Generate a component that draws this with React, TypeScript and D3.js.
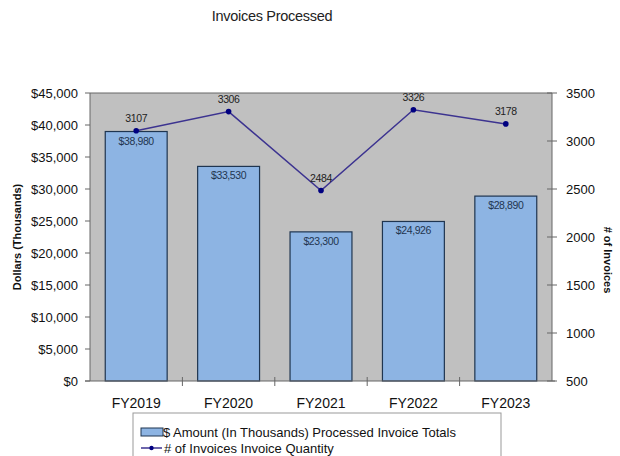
import * as d3 from 'd3';
import React from 'react';

const years = ['FY2019', 'FY2020', 'FY2021', 'FY2022', 'FY2023'];
const amounts = [38980, 33530, 23300, 24926, 28890];
const invoiceCounts = [3107, 3306, 2484, 3326, 3178];
const dollarTicks = [0, 5000, 10000, 15000, 20000, 25000, 30000, 35000, 40000, 45000];
const countTicks = [500, 1000, 1500, 2000, 2500, 3000, 3500];

const W = 620;
const H = 456;
const plot = { left: 90, right: 552, top: 93, bottom: 381 };
const font = 'Arial, "Liberation Sans", sans-serif';

const App: React.FC = () => {
  const x = d3.scaleBand<string>().domain(years).range([plot.left, plot.right]).paddingInner(0.33).paddingOuter(0.165);
  const xCat = d3.scaleBand<string>().domain(years).range([plot.left, plot.right]);
  const yL = d3.scaleLinear().domain([0, 45000]).range([plot.bottom, plot.top]);
  const yR = d3.scaleLinear().domain([500, 3500]).range([plot.bottom, plot.top]);
  const fmt = (v: number) => '$' + d3.format(',')(v);

  const line = d3
    .line<number>()
    .x((_, i) => (xCat(years[i]) ?? 0) + xCat.bandwidth() / 2)
    .y((d) => yR(d));

  return (
    <svg width={W} height={H} style={{ position: 'absolute', left: 0, top: 0, background: '#fff' }}>
      <text x={272} y={21} textAnchor="middle" fontFamily={font} fontSize={14.5} fill="#222" letterSpacing={-0.3}>
        Invoices Processed
      </text>

      <rect x={plot.left} y={plot.top} width={plot.right - plot.left} height={plot.bottom - plot.top} fill="#c0c0c0" />
      <line x1={plot.left} x2={plot.right} y1={plot.top} y2={plot.top} stroke="#666" strokeWidth={1} />

      {years.map((yr, i) => (
        <g key={yr}>
          <rect
            x={x(yr)}
            y={yL(amounts[i])}
            width={x.bandwidth()}
            height={plot.bottom - yL(amounts[i])}
            fill="#8db4e3"
            stroke="#1f3550"
            strokeWidth={1.2}
          />
          <text
            x={(x(yr) ?? 0) + x.bandwidth() / 2}
            y={yL(amounts[i]) + 13}
            textAnchor="middle"
            fontFamily={font}
            fontSize={10.5}
            letterSpacing={-0.4}
            fill="#1f3550"
          >
            {fmt(amounts[i])}
          </text>
        </g>
      ))}

      <path d={line(invoiceCounts) ?? ''} fill="none" stroke="#3c3390" strokeWidth={1.5} />
      {invoiceCounts.map((c, i) => {
        const cx = (xCat(years[i]) ?? 0) + xCat.bandwidth() / 2;
        return (
          <g key={i}>
            <circle cx={cx} cy={yR(c)} r={2.8} fill="#000080" />
            <text x={cx} y={yR(c) - 9} textAnchor="middle" fontFamily={font} fontSize={10.5} letterSpacing={-0.4} fill="#222">
              {c}
            </text>
          </g>
        );
      })}

      {/* left axis */}
      <line x1={plot.left} x2={plot.left} y1={plot.top} y2={plot.bottom} stroke="#666" />
      {dollarTicks.map((t) => (
        <g key={t}>
          <line x1={plot.left - 5} x2={plot.left} y1={yL(t)} y2={yL(t)} stroke="#666" />
          <text x={plot.left - 12} y={yL(t) + 4.5} textAnchor="end" fontFamily={font} fontSize={13} fill="#111">
            {fmt(t)}
          </text>
        </g>
      ))}

      {/* right axis */}
      <line x1={plot.right} x2={plot.right} y1={plot.top} y2={plot.bottom} stroke="#666" />
      {countTicks.map((t) => (
        <g key={t}>
          <line x1={plot.right - 5} x2={plot.right + 5} y1={yR(t)} y2={yR(t)} stroke="#666" />
          <text x={plot.right + 14} y={yR(t) + 4.5} textAnchor="start" fontFamily={font} fontSize={13} fill="#111">
            {t}
          </text>
        </g>
      ))}

      {/* bottom axis */}
      <line x1={plot.left - 5} x2={plot.right + 3} y1={plot.bottom} y2={plot.bottom} stroke="#666" />
      {years.slice(1).map((yr) => (
        <line key={yr} x1={xCat(yr)} x2={xCat(yr)} y1={plot.bottom - 4} y2={plot.bottom + 5} stroke="#666" />
      ))}
      {years.map((yr) => (
        <text
          key={yr}
          x={(xCat(yr) ?? 0) + xCat.bandwidth() / 2}
          y={408}
          textAnchor="middle"
          fontFamily={font}
          fontSize={14}
          fill="#111"
        >
          {yr}
        </text>
      ))}

      <text
        transform={`translate(21, 237) rotate(-90)`}
        textAnchor="middle"
        fontFamily={font}
        fontSize={11}
        fontWeight="bold"
        fill="#111"
      >
        Dollars (Thousands)
      </text>
      <text
        transform={`translate(604, 260) rotate(90)`}
        textAnchor="middle"
        fontFamily={font}
        fontSize={11}
        fontWeight="bold"
        fill="#111"
      >
        # of Invoices
      </text>

      {/* legend */}
      <rect x={133} y={413} width={368} height={45} fill="#fff" stroke="#999" />
      <rect x={141} y={428} width={22} height={8} fill="#8db4e3" stroke="#1f3550" />
      <text x={163} y={437} fontFamily={font} fontSize={13} fill="#111">
        $ Amount (In Thousands) Processed Invoice Totals
      </text>
      <line x1={141} x2={162} y1={448} y2={448} stroke="#3c3390" strokeWidth={1.5} />
      <circle cx={151.5} cy={448} r={2.2} fill="#000080" />
      <text x={164} y={453} fontFamily={font} fontSize={13} fill="#111">
        # of Invoices Invoice Quantity
      </text>
    </svg>
  );
};

export default App;
